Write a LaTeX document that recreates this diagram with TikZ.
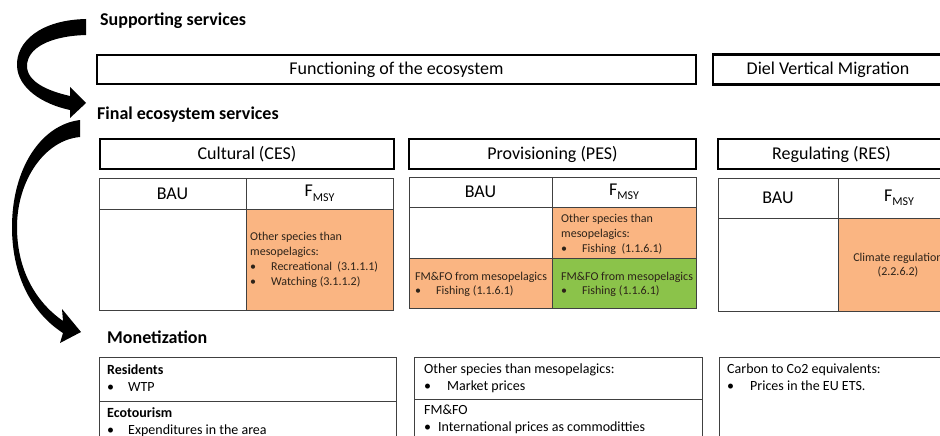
\documentclass[tikz,border=0pt]{standalone}
\usepackage{fontspec}
\setmainfont{Carlito}
\definecolor{cellorange}{RGB}{250,181,130}
\definecolor{cellgreen}{RGB}{139,195,74}
\definecolor{gridline}{RGB}{64,64,64}
\definecolor{celltext}{RGB}{45,35,25}
\newcommand\bulletitem[2][21pt]{\makebox[#1][l]{\textbullet}#2}
\newcommand\fmsy{F\raisebox{-0.25em}{\fontsize{12}{12}\selectfont MSY}}
\tikzset{
  heading/.style={anchor=west, inner sep=0, font=\fontsize{18}{20}\selectfont\bfseries},
  wh/.style 2 args={minimum width=#1, minimum height=#2},
  servicebox/.style={draw, line width=2.2pt, inner sep=0, font=\fontsize{18}{20}\selectfont},
  cell/.style={draw=gridline, line width=1pt, inner sep=0, font=\fontsize{18}{20}\selectfont},
  celltxt/.style={anchor=north west, inner sep=0, align=left, text=celltext, font=\fontsize{12}{15}\selectfont},
  monbox/.style={draw=gridline, line width=1pt, inner sep=0},
  montxt/.style={anchor=north west, inner sep=0, align=left, font=\fontsize{14}{17}\selectfont},
  bigarrow/.style={fill=black, draw=none}
}
\begin{document}
\begin{tikzpicture}[x=1pt, y=-1pt]
  \useasboundingbox (0,0) rectangle (940,436);
  \clip (0,0) rectangle (940,436);

  % headings
  \node[heading] (supp) at (100,21)  {Supporting services};
  \node[heading] (fin)  at (97,115)  {Final ecosystem services};
  \node[heading] (mon)  at (107,337) {Monetization};

  % supporting services
  \node[servicebox, wh={599}{29}] (func) at (396.5,69.5) {Functioning of the ecosystem};
  \node[servicebox, wh={230}{30}] (dvm)  at (828,69.5)   {Diel Vertical Migration};

  % final ecosystem services
  \node[servicebox, wh={294}{30}] (ces) at (247,154)   {Cultural (CES)};
  \node[servicebox, wh={287}{30}] (pes) at (552.5,154) {Provisioning (PES)};
  \node[servicebox, wh={227}{30}] (res) at (831.5,154) {Regulating (RES)};

  % cultural table
  \node[cell, wh={147}{31}] (ceshb) at (172.5,193.5) {BAU};
  \node[cell, wh={147}{31}] (ceshf) at (319.5,193.5) {\fmsy};
  \node[cell, wh={147}{101}] (cesbb) at (172.5,259.5) {};
  \node[cell, wh={147}{101}, fill=cellorange] (cesbf) at (319.5,259.5) {};
  \node[celltxt] (cestxt) at (250,232) {Other species than\\mesopelagics:\\
    \bulletitem{Recreational\ \ (3.1.1.1)}\\\bulletitem{Watching (3.1.1.2)}};

  % provisioning table
  \node[cell, wh={143}{30}] (peshb) at (480.5,192) {BAU};
  \node[cell, wh={144}{30}] (peshf) at (624,192)   {\fmsy};
  \node[cell, wh={143}{51}] (pesbb) at (480.5,232.5) {};
  \node[cell, wh={144}{51}, fill=cellorange] (pesbf) at (624,232.5) {};
  \node[cell, wh={143}{50}, fill=cellorange] (pesfb) at (480.5,283) {};
  \node[cell, wh={144}{50}, fill=cellgreen]  (pesff) at (624,283)   {};
  \node[celltxt] (pestxt) at (561,214) {Other species than\\mesopelagics:\\
    \bulletitem{Fishing\ \ (1.1.6.1)}};
  \node[celltxt, font=\fontsize{12}{13.5}\selectfont] (fmbau) at (415,272)
    {FM\&FO from mesopelagics\\\bulletitem{Fishing (1.1.6.1)}};
  \node[celltxt, font=\fontsize{12}{13.5}\selectfont] (fmmsy) at (561,272)
    {FM\&FO from mesopelagics\\\bulletitem{Fishing (1.1.6.1)}};

  % regulating table
  \node[cell, wh={120}{40}] (reshb) at (778,198) {BAU};
  \node[cell, wh={122}{40}] (reshf) at (899,198) {\fmsy};
  \node[cell, wh={120}{93}] (resbb) at (778,264.5) {};
  \node[cell, wh={122}{93}, fill=cellorange] (resbf) at (899,264.5) {};
  \node[celltxt, anchor=north, align=center, font=\fontsize{12}{14}\selectfont] (restxt)
    at (898,253) {Climate regulation\\(2.2.6.2)};

  % monetization
  \node[monbox, wh={297}{44}] (monres) at (247.5,379) {};
  \node[monbox, wh={297}{60}] (moneco) at (247.5,431) {};
  \node[monbox, wh={288}{42}] (monoth) at (558,378)   {};
  \node[monbox, wh={288}{62}] (monfm)  at (558,430)   {};
  \node[monbox, wh={262}{110}] (monco) at (850,412)  {};
  \node[montxt] (restx) at (107,364) {\textbf{Residents}\\\bulletitem{WTP}};
  \node[montxt] (ecotx) at (107,407) {\textbf{Ecotourism}\\\bulletitem{Expenditures in the area}};
  \node[montxt] (othtx) at (424,364) {Other species than mesopelagics:\\\bulletitem[23pt]{Market prices}};
  \node[montxt] (fmtx)  at (424,405) {FM\&FO\\\bulletitem[14pt]{International prices as commoditties}};
  \node[montxt] (cotx)  at (727,364) {Carbon to Co2 equivalents:\\\bulletitem[23pt]{Prices in the EU ETS.}};

  % curved arrows
  \fill[bigarrow] (86,19) .. controls (40,20) and (16,42) .. (17,66)
    .. controls (18,88) and (42,104) .. (70,110) -- (70,118) -- (86,103) -- (70,87) -- (70,96)
    .. controls (48,91) and (27,82) .. (27,66) .. controls (27,48) and (50,36) .. (86,35) -- cycle;
  \fill[bigarrow] (80,120) .. controls (40,125) and (12,170) .. (12,227)
    .. controls (12,280) and (35,315) .. (63,333) -- (60,343) -- (81,332) -- (62,309) -- (63,321)
    .. controls (40,305) and (17,275) .. (17,227) .. controls (17,180) and (45,140) .. (80,137) -- cycle;

\end{tikzpicture}
\end{document}
